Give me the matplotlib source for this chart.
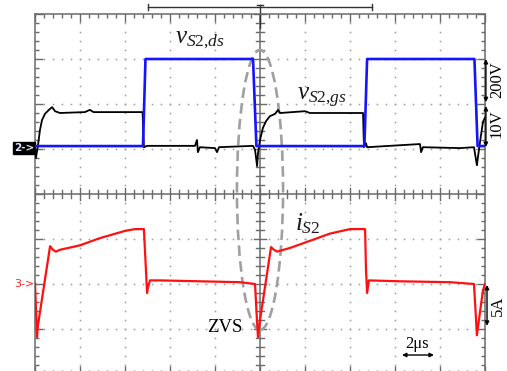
import matplotlib
matplotlib.use('Agg')
import matplotlib.pyplot as plt
import numpy as np
from matplotlib.patches import Ellipse

plt.rcParams['mathtext.fontset'] = 'custom'
plt.rcParams['mathtext.it'] = 'Liberation Serif:italic'
plt.rcParams['mathtext.rm'] = 'Liberation Serif'
plt.rcParams['mathtext.bf'] = 'Liberation Serif:bold'

# ---------------- scope settings ----------------
T_PER_DIV = 2.0          # µs / div
VDS_PER_DIV = 200.0      # V / div  (ch2 v_S2,ds)
VGS_PER_DIV = 10.0       # V / div  (v_S2,gs)
I_PER_DIV = 5.0          # A / div  (ch3 i_S2)
CH2_ZERO = 1.0           # div position of "2->" marker
CH3_ZERO = -2.0          # div position of "3->" marker

# ---------------- data ----------------
vds_t = [0, 4.80, 4.91, 9.69, 9.84, 14.64, 14.76, 19.53, 19.67, 20.0]
vds_v = [13, 13, 400, 400, 13, 13, 400, 400, 13, 13]

vgs_t = [0, 0.04, 0.13, 0.22, 0.31, 0.44, 0.62, 0.76, 0.89, 1.11, 2.22, 2.44, 2.6,
         4.78, 4.84, 4.98, 7.11, 7.2, 7.24, 7.33, 8.0, 8.09, 8.18, 9.69, 9.78,
         9.87, 9.91, 10.0, 10.13, 10.27, 10.44, 10.67, 10.8, 10.89, 12.0, 12.22,
         14.58, 14.62, 14.71, 14.76, 17.11, 17.16, 17.24, 18.89, 19.51, 19.6,
         19.64, 19.73, 19.82, 19.91, 20.0]
vgs_v = [0.2, -2.0, 0.7, 4.2, 6.4, 7.8, 8.7, 9.3, 8.4, 8.0, 8.2, 8.7, 8.2,
         8.2, 0.4, 0.7, 0.7, 2.0, -0.7, 0.4, 0.2, -0.7, 0.4, 0.7, -0.2,
         -3.8, -1.0, 2.0, 4.7, 6.2, 7.3, 7.8, 8.7, 8.0, 8.4, 8.0,
         8.0, 0.4, 1.3, 0.4, 1.1, -0.7, 0.4, 0.2, 0.4, -2.4,
         -3.6, -0.2, 3.0, 6.0, 7.0]

is2_t = [0, 0.09, 0.13, 0.67, 0.80, 0.93, 1.11, 2.0, 2.89, 4.0, 4.44, 4.84, 4.93,
         4.98, 5.02, 5.11, 5.56, 7.33, 9.11, 9.78, 9.84, 9.91, 10.0, 10.49, 10.62,
         10.76, 11.33, 12.0, 13.11, 14.0, 14.67, 14.71, 14.76, 14.84, 16.22,
         18.44, 19.51, 19.58, 19.64, 19.73, 19.91, 20.0]
is2_i = [0.1, -5.9, -4.6, 4.2, 3.8, 3.6, 3.8, 4.3, 5.1, 5.9, 6.1, 6.1, 1.6,
         -1.0, -0.4, 0.4, 0.4, 0.3, 0.2, 0.0, -2.9, -5.9, -4.0, 4.1, 3.8,
         3.6, 4.0, 4.6, 5.6, 6.1, 6.1, 1.6, -1.0, 0.4, 0.3,
         0.2, 0.0, -3.0, -5.7, -4.0, -0.7, 0.0]

# ---------------- figure ----------------
W, H = 507, 371
fig = plt.figure(figsize=(W / 100, H / 100), dpi=100)
fig.patch.set_facecolor('white')
L, R, TOP, BOT = 35, 485, 14, 374
ax = fig.add_axes([L / W, 1 - BOT / H, (R - L) / W, (BOT - TOP) / H])
ax.set_xlim(0, 10 * T_PER_DIV)
ax.set_ylim(-4, 4)

frame_col = '#6a6a6a'
for s in ax.spines.values():
    s.set_color(frame_col)
    s.set_linewidth(1.1)
ax.set_xticks(np.arange(0, 20.01, T_PER_DIV))
ax.set_xticks(np.arange(0, 20.01, T_PER_DIV / 5), minor=True)
ax.set_yticks(np.arange(-4, 4.01, 1))
ax.set_yticks(np.arange(-4, 4.01, 0.2), minor=True)
ax.tick_params(which='both', direction='in', top=True, right=True,
               labelbottom=False, labelleft=False, color=frame_col, width=1.0)
ax.tick_params(which='major', length=5.5)
ax.tick_params(which='minor', length=3)

# dotted graticule
dot_col = '#9a9a9a'
for gx in range(1, 10):
    if gx == 5:
        continue
    yy = np.arange(-4, 4.01, 0.2)
    ax.plot(np.full_like(yy, gx * T_PER_DIV), yy, ls='none', marker='s',
            ms=1.1, mec='none', mfc=dot_col, zorder=1)
for gy in range(-3, 4):
    if gy == 0:
        continue
    xx = np.arange(0, 20.01, T_PER_DIV / 5)
    ax.plot(xx, np.full_like(xx, gy), ls='none', marker='s',
            ms=1.1, mec='none', mfc=dot_col, zorder=1)

# centre cross with ticks
ax.axhline(0, color=frame_col, lw=1.1, zorder=1)
ax.axvline(10, color=frame_col, lw=1.1, zorder=1)
for k, xv in enumerate(np.arange(0, 20.01, T_PER_DIV / 5)):
    h = 0.13 if k % 5 == 0 else 0.09
    ax.plot([xv, xv], [-h, h], color=frame_col, lw=1.0, zorder=1)
for k, yv in enumerate(np.arange(-4, 4.01, 0.2)):
    h = 0.26 if k % 5 == 0 else 0.18
    ax.plot([10 - h, 10 + h], [yv, yv], color=frame_col, lw=1.0, zorder=1)

# dashed ellipse (ZVS region)
ell = Ellipse((10.0, 0.09), width=2.05, height=6.22, fill=False,
              edgecolor='#a0a0a0', lw=1.9, ls=(0, (4, 2)), zorder=2)
ax.add_patch(ell)

# traces
ax.plot(vgs_t, np.array(vgs_v) / VGS_PER_DIV + CH2_ZERO, color='black', lw=1.3, zorder=3)
ax.plot(vds_t, np.array(vds_v) / VDS_PER_DIV + CH2_ZERO, color='#1414ff', lw=1.9, zorder=4)
ax.plot(is2_t, np.array(is2_i) / I_PER_DIV + CH3_ZERO, color='#ff1010', lw=1.6, zorder=4)

# top trigger bracket
bc = '#333333'
ax.plot([5.02, 14.98], [4.156, 4.156], color=bc, lw=1.0, clip_on=False)
ax.plot([5.02, 5.02], [4.09, 4.22], color=bc, lw=1.0, clip_on=False)
ax.plot([14.98, 14.98], [4.09, 4.22], color=bc, lw=1.0, clip_on=False)
ax.plot([10, 10], [3.7, 4.2], color=bc, lw=1.0, clip_on=False)
ax.plot([9.87, 10.13], [4.2, 4.2], color=bc, lw=1.0, clip_on=False)

# channel markers
ax.text(-0.49, CH2_ZERO + 0.02, '2->', color='#dde6ff', fontsize=7.5, ha='center',
        va='center', fontweight='bold', family='DejaVu Sans',
        bbox=dict(boxstyle='square,pad=0.12', fc='black', ec='black'), clip_on=False)
ax.text(-0.49, CH3_ZERO, '3->', color='#ff2020', fontsize=8, ha='center',
        va='center', family='DejaVu Sans', clip_on=False)

# labels
ax.text(6.22, 3.356, r'$\mathit{v}_{\mathit{S2{,}ds}}$', fontsize=18, ha='left',
        va='baseline', color='#1a1a1a')
ax.text(11.64, 2.09, r'$\mathit{v}_{\mathit{S2{,}gs}}$', fontsize=18, ha='left',
        va='baseline', color='#1a1a1a')
ax.text(11.56, -0.80, r'$\mathit{i}_{\mathit{S2}}$', fontsize=18, ha='left',
        va='baseline', color='#1a1a1a')
ax.text(7.64, -3.067, 'ZVS', fontsize=13.5, family='Liberation Serif', ha='left',
        va='baseline', color='black')

# scale annotations at right
aprops = dict(arrowstyle='<|-|>', color='black', lw=1.0, shrinkA=0, shrinkB=0,
              mutation_scale=6)
ax.annotate('', xy=(20.04, 3.0), xytext=(20.04, 2.04), arrowprops=aprops,
            annotation_clip=False)
ax.annotate('', xy=(20.04, 1.956), xytext=(20.04, 1.044), arrowprops=aprops,
            annotation_clip=False)
ax.annotate('', xy=(20.09, -2.02), xytext=(20.09, -2.93), arrowprops=aprops,
            annotation_clip=False)
ax.text(20.53, 2.533, '200V', rotation=90, fontsize=12, family='Liberation Serif',
        ha='center', va='center', clip_on=False)
ax.text(20.53, 1.556, '10V', rotation=90, fontsize=12, family='Liberation Serif',
        ha='center', va='center', clip_on=False)
ax.text(20.58, -2.49, '5A', rotation=90, fontsize=12, family='Liberation Serif',
        ha='center', va='center', clip_on=False)

# time scale
ax.annotate('', xy=(16.31, -3.578), xytext=(17.73, -3.578), arrowprops=aprops)
ax.text(17.0, -3.42, '2\u03bcs', fontsize=12, family='Liberation Serif',
        ha='center', va='baseline')

fig.savefig('out.png', dpi=100, facecolor='white')
